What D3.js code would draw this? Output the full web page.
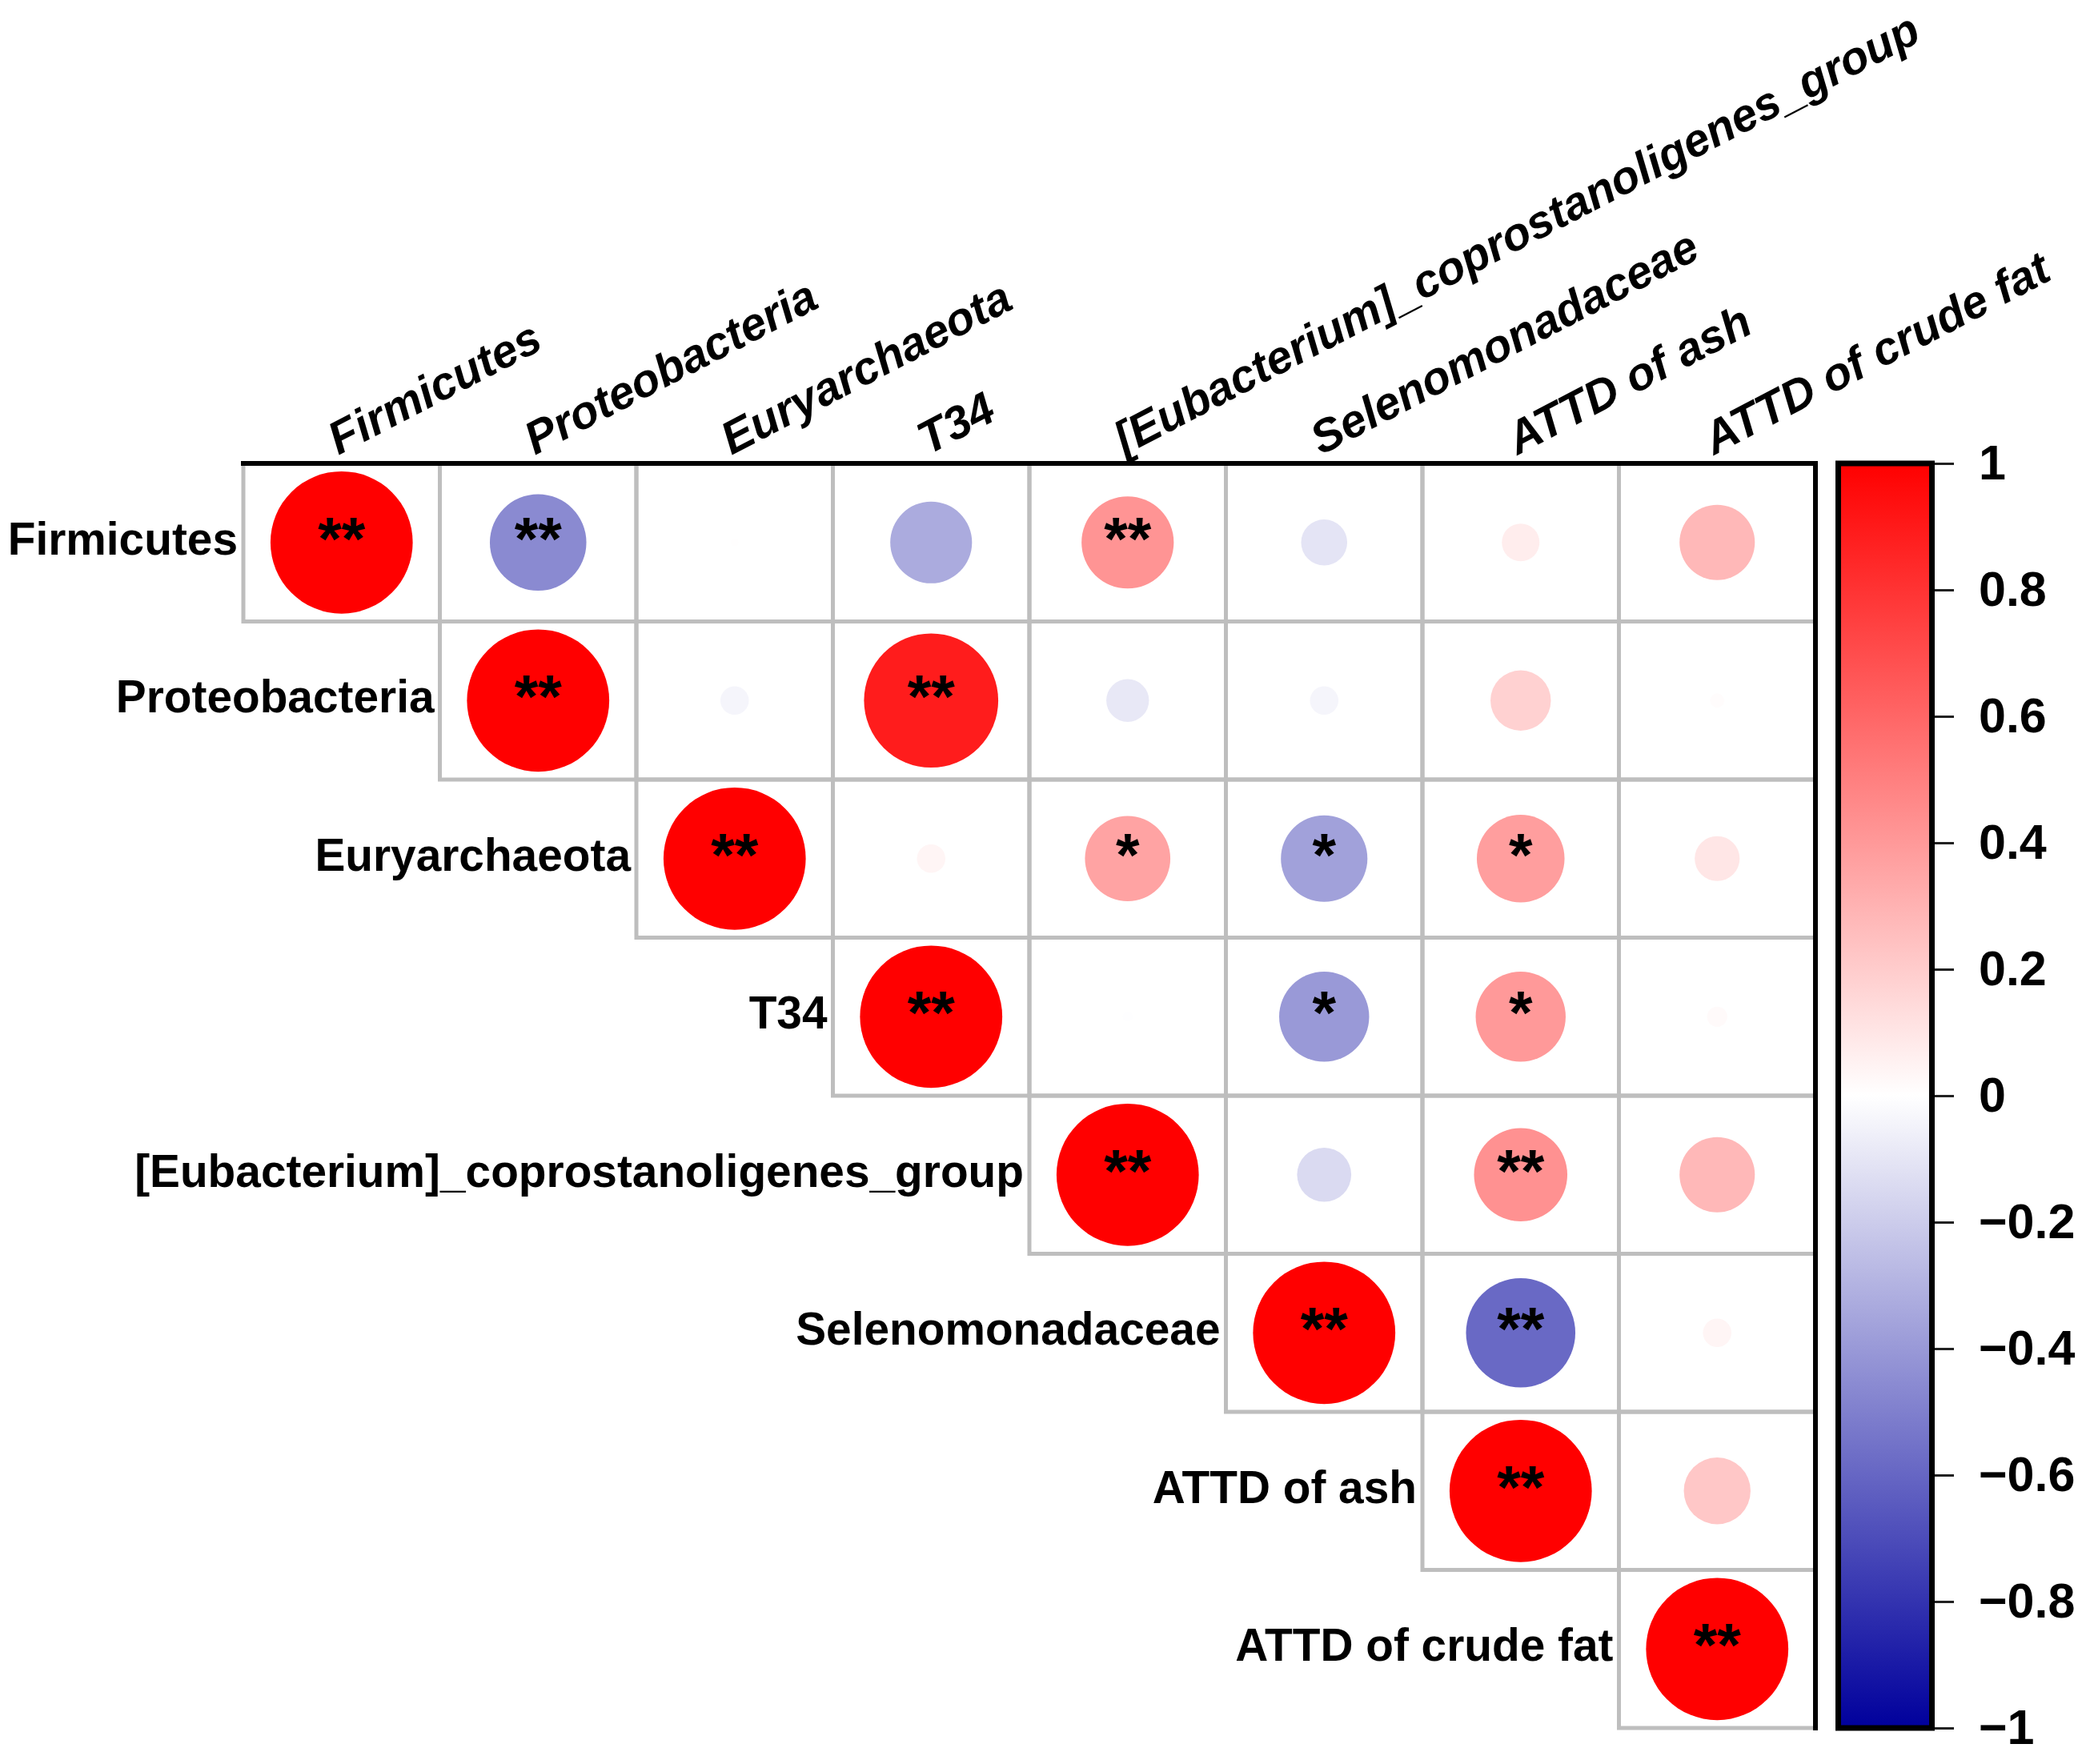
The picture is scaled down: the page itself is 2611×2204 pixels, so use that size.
<!DOCTYPE html>
<html>
<head>
<meta charset="utf-8">
<script src="https://cdn.jsdelivr.net/npm/d3@7"></script>
<style>
  body { margin: 0; background: #fff; }
  text { font-family: "Liberation Sans", Arial, sans-serif; font-weight: bold; }
</style>
</head>
<body>
<svg id="chart"></svg>
<script>
// variables (rows and columns share the same order)
const labels = [
  "Firmicutes", "Proteobacteria", "Euryarchaeota", "T34",
  "[Eubacterium]_coprostanoligenes_group", "Selenomonadaceae",
  "ATTD of ash", "ATTD of crude fat"
]

// upper triangle of the correlation matrix, row i starts at column i
const corrRows = [
  [1, -0.46, 0.003, -0.33, 0.42, -0.105, 0.07, 0.28],
  [1, -0.04, 0.89, -0.09, -0.04, 0.18, 0.01],
  [1, 0.04, 0.36, -0.37, 0.38, 0.10],
  [1, -0.005, -0.40, 0.40, 0.02],
  [1, -0.145, 0.43, 0.28],
  [1, -0.59, 0.04],
  [1, 0.22],
  [1]
]

// significance marks, same shape
const sigRows = [
  ["**", "**", "", "", "**", "", "", ""],
  ["**", "", "**", "", "", "", ""],
  ["**", "", "*", "*", "*", ""],
  ["**", "", "*", "*", ""],
  ["**", "", "**", ""],
  ["**", "**", ""],
  ["**", ""],
  ["**"]
]

const colorbarTicks = [1, 0.8, 0.6, 0.4, 0.2, 0, -0.2, -0.4, -0.6, -0.8, -1]

function drawCorrplot() {
  const width = 2611
  const height = 2204

  const svg = d3.select("#chart")
    .attr("width", width)
    .attr("height", height)

  // flatten upper triangle
  const cells = []
  corrRows.forEach((row, i) => {
    row.forEach((v, k) => {
      const j = i + k
      cells.push({ row: labels[i], col: labels[j], i: i, j: j, r: v, sig: sigRows[i][k] })
    })
  })

  const x = d3.scaleBand().domain(labels).range([304, 2268])
  const y = d3.scaleBand().domain(labels).range([579, 2159])

  const radius = d3.scaleSqrt().domain([0, 1]).range([0, 0.45 * y.bandwidth()])
  const color = d3.scaleLinear()
    .domain([-1, 0, 1])
    .range(["#00009c", "#ffffff", "#ff0000"])

  // cell borders
  svg.append("g")
    .selectAll("rect")
    .data(cells)
    .join("rect")
    .attr("x", d => x(d.col))
    .attr("y", d => y(d.row))
    .attr("width", x.bandwidth())
    .attr("height", y.bandwidth())
    .attr("fill", "none")
    .attr("stroke", "#bebebe")
    .attr("stroke-width", 5)

  // black top and right frame
  svg.append("line")
    .attr("x1", 301).attr("x2", 2271)
    .attr("y1", 579).attr("y2", 579)
    .attr("stroke", "#000").attr("stroke-width", 6)
  svg.append("line")
    .attr("x1", 2268).attr("x2", 2268)
    .attr("y1", 576).attr("y2", 2162)
    .attr("stroke", "#000").attr("stroke-width", 6)

  // circles
  svg.append("g")
    .selectAll("circle")
    .data(cells)
    .join("circle")
    .attr("cx", d => x(d.col) + x.bandwidth() / 2)
    .attr("cy", d => y(d.row) + y.bandwidth() / 2)
    .attr("r", d => radius(Math.abs(d.r)))
    .attr("fill", d => color(d.r))

  // significance stars
  svg.append("g")
    .selectAll("text")
    .data(cells.filter(d => d.sig))
    .join("text")
    .attr("x", d => x(d.col) + x.bandwidth() / 2)
    .attr("y", d => y(d.row) + y.bandwidth() / 2 + 21)
    .attr("text-anchor", "middle")
    .attr("font-size", 76)
    .attr("fill", "#000")
    .text(d => d.sig)

  // row labels
  svg.append("g")
    .selectAll("text")
    .data(labels)
    .join("text")
    .attr("x", d => x(d) - 7)
    .attr("y", d => y(d) + y.bandwidth() / 2 + 15)
    .attr("text-anchor", "end")
    .attr("font-size", 56.8)
    .text(d => d)

  // column labels, rotated
  svg.append("g")
    .selectAll("text")
    .data(labels)
    .join("text")
    .attr("transform", d => `translate(${x(d) + x.bandwidth() / 2 - 4},569) rotate(-27.5)`)
    .attr("font-size", 57.5)
    .attr("font-style", "italic")
    .text(d => d)

  // colour legend
  const defs = svg.append("defs")
  const grad = defs.append("linearGradient")
    .attr("id", "cbar")
    .attr("x1", 0).attr("x2", 0).attr("y1", 0).attr("y2", 1)
  grad.selectAll("stop")
    .data([1, 0, -1])
    .join("stop")
    .attr("offset", d => (1 - d) / 2)
    .attr("stop-color", d => color(d))

  const cbarScale = d3.scaleLinear().domain([-1, 1]).range([2159, 579])

  svg.append("rect")
    .attr("x", 2296.5)
    .attr("y", 579)
    .attr("width", 117)
    .attr("height", 1580)
    .attr("fill", "url(#cbar)")
    .attr("stroke", "#000")
    .attr("stroke-width", 7)

  const axis = d3.axisRight(cbarScale)
    .tickValues(colorbarTicks)
    .tickSize(24)
    .tickPadding(31)
    .tickFormat(d => (d < 0 ? "\u2212" : "") + d3.format("")(Math.abs(d)))

  const gAxis = svg.append("g")
    .attr("transform", "translate(2417,0)")
    .call(axis)
  gAxis.select(".domain").remove()
  gAxis.selectAll(".tick line").attr("stroke", "#222").attr("stroke-width", 3)
  gAxis.selectAll(".tick text")
    .attr("font-size", 61)
    .attr("font-family", "Liberation Sans, Arial, sans-serif")
    .attr("font-weight", "bold")
    .attr("fill", "#000")
}

drawCorrplot()
</script>
</body>
</html>
